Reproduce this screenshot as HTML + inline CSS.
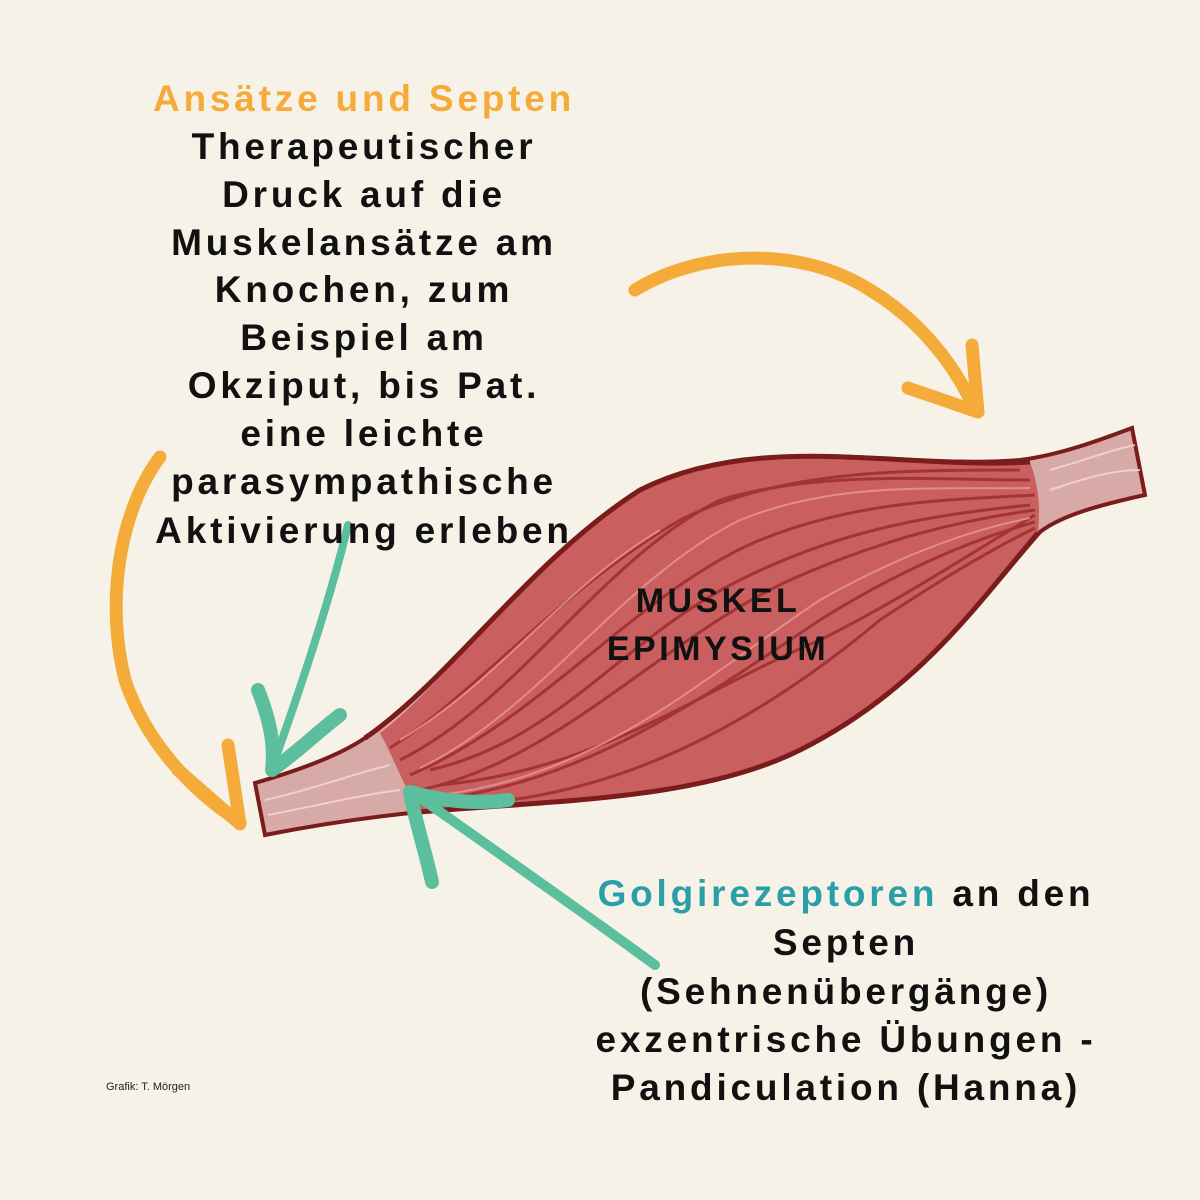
<!DOCTYPE html>
<html><head><meta charset="utf-8"><style>
html,body{margin:0;padding:0;background:#f7f2e8;}
svg{display:block}
text{font-family:"Liberation Sans",sans-serif;font-weight:bold;}
</style></head><body>
<svg width="1200" height="1200" viewBox="0 0 1200 1200" xmlns="http://www.w3.org/2000/svg">
<rect width="1200" height="1200" fill="#f7f2e8"/>
<!-- orange arrows -->
<g fill="none" stroke="#f5ab3a" stroke-linecap="round" stroke-linejoin="round">
<path d="M635,290 C700,250 800,245 870,290 C920,320 955,365 975,410" stroke-width="13"/>
<path d="M908,388 L978,412 L972,345" stroke-width="13"/>
<path d="M160,457 C120,510 105,600 125,680 C145,740 190,790 240,822" stroke-width="13"/>
<path d="M178,770 L240,824 L228,745" stroke-width="13"/>
</g>
<!-- muscle -->
<path d="M255,783 C300,770 340,755 365,738 C450,680 530,560 640,490 C760,430 900,470 1020,460 C1060,455 1100,440 1132,428 L1145,495 C1100,505 1062,515 1040,532 C980,600 920,690 800,750 C700,800 550,800 420,812 C360,818 310,826 265,835 Z" fill="#d7a9a7" stroke="#7a1c1c" stroke-width="4"/>
<path d="M380,733 C450,680 530,560 640,490 C760,430 900,470 1030,462 C1040,490 1040,510 1038,533 C980,600 920,690 800,750 C700,800 560,800 420,812 C405,790 395,760 380,733 Z" fill="#c95f5e"/>
<path d="M640,490 C760,430 900,470 1030,462" fill="none" stroke="#7a1c1c" stroke-width="5"/>
<path d="M1038,533 C980,600 920,690 800,750 C700,800 560,800 420,812" fill="none" stroke="#7a1c1c" stroke-width="5"/>
<path d="M365,738 C450,680 530,560 640,490" fill="none" stroke="#7a1c1c" stroke-width="5"/>
<g fill="none" stroke="#9a2a2c" stroke-width="3" opacity="0.8">
<path d="M400,760 C520,700 600,560 720,500 C820,470 930,480 1030,480"/>
<path d="M410,775 C540,720 640,590 760,540 C860,500 950,500 1035,495"/>
<path d="M420,790 C560,760 660,640 790,580 C880,540 960,520 1035,510"/>
<path d="M430,800 C580,785 700,700 820,620 C900,570 970,540 1035,522"/>
<path d="M450,805 C620,800 760,720 880,620 C940,580 990,550 1035,528"/>
<path d="M390,748 C480,690 560,590 680,520 C780,470 900,470 1020,470"/>
<path d="M430,770 C560,740 620,640 740,580 C840,530 930,515 1030,505"/>
<path d="M440,785 C600,770 700,690 820,640 C900,600 960,560 1035,515"/>
</g>
<g fill="none" stroke="#e59a98" stroke-width="2" opacity="0.8">
<path d="M420,768 C540,710 620,580 740,520 C840,480 940,490 1030,488"/>
<path d="M440,795 C600,775 700,680 820,600 C900,555 970,530 1030,518"/>
<path d="M400,740 C500,680 560,590 660,530"/>
</g>
<g fill="none" stroke="#f3dada" stroke-width="2" opacity="0.8">
<path d="M265,800 C310,790 350,775 390,765"/>
<path d="M268,815 C320,805 360,795 400,790"/>
<path d="M1050,470 C1080,462 1110,450 1135,445"/>
<path d="M1050,490 C1080,480 1110,470 1140,470"/>
</g>
<!-- teal arrows -->
<g fill="none" stroke="#5bbf9e" stroke-linecap="round" stroke-linejoin="round">
<path d="M348,525 C330,600 300,690 272,768" stroke-width="8"/>
<path d="M258,690 C270,720 275,745 272,770 C300,750 320,730 340,715" stroke-width="14"/>
<path d="M655,965 C580,910 480,840 412,792" stroke-width="10"/>
<path d="M432,882 C425,850 415,820 410,792 C440,800 470,805 508,800" stroke-width="14"/>
</g>
<!-- text -->
<g text-anchor="middle" font-size="37" letter-spacing="3.8" fill="#111">
<text x="364" y="111" fill="#f5ab3a">Ansätze und Septen</text>
<text x="364" y="159">Therapeutischer</text>
<text x="364" y="207">Druck auf die</text>
<text x="364" y="255">Muskelansätze am</text>
<text x="364" y="302">Knochen, zum</text>
<text x="364" y="350">Beispiel am</text>
<text x="364" y="398">Okziput, bis Pat.</text>
<text x="364" y="446">eine leichte</text>
<text x="364" y="494">parasympathische</text>
<text x="364" y="543">Aktivierung erleben</text>
<text x="718" y="612" font-size="34" letter-spacing="3.5">MUSKEL</text>
<text x="718" y="660" font-size="34" letter-spacing="3.5">EPIMYSIUM</text>
<text x="846" y="906"><tspan fill="#2a9fa8">Golgirezeptoren</tspan> an den</text>
<text x="846" y="955">Septen</text>
<text x="846" y="1004">(Sehnenübergänge)</text>
<text x="846" y="1052">exzentrische Übungen -</text>
<text x="846" y="1100">Pandiculation (Hanna)</text>
</g>
<text x="106" y="1090" font-size="11" style="font-weight:normal" fill="#222">Grafik: T. Mörgen</text>
</svg>
</body></html>
